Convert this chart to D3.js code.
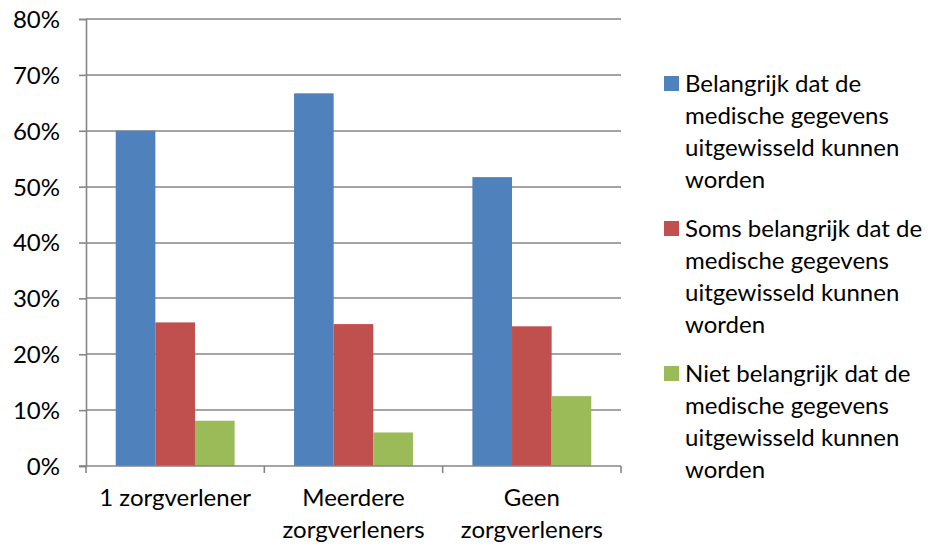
<!DOCTYPE html>
<html>
<head>
<meta charset="utf-8">
<script src="https://cdn.jsdelivr.net/npm/d3@7"></script>
<style>
  html, body { margin: 0; padding: 0; background: #fff; }
  svg { display: block; font-family: Lato, "Open Sans", sans-serif; }
</style>
</head>
<body>
<svg id="chart" width="944" height="547"></svg>
<script>
// Categories along the x axis (each label may wrap onto two lines)
const categories = ["1 zorgverlener", "Meerdere zorgverleners", "Geen zorgverleners"];
const categoryLines = [["1 zorgverlener"], ["Meerdere", "zorgverleners"], ["Geen", "zorgverleners"]];

// Series names (legend), shown as wrapped lines
const seriesNames = [
  "Belangrijk dat de medische gegevens uitgewisseld kunnen worden",
  "Soms belangrijk dat de medische gegevens uitgewisseld kunnen worden",
  "Niet belangrijk dat de medische gegevens uitgewisseld kunnen worden"
];
const seriesLines = [
  ["Belangrijk dat de", "medische gegevens", "uitgewisseld kunnen", "worden"],
  ["Soms belangrijk dat de", "medische gegevens", "uitgewisseld kunnen", "worden"],
  ["Niet belangrijk dat de", "medische gegevens", "uitgewisseld kunnen", "worden"]
];

// Share per category, one array per series
const belangrijk     = [0.600, 0.667, 0.517];
const somsBelangrijk = [0.257, 0.254, 0.250];
const nietBelangrijk = [0.081, 0.060, 0.125];
const seriesValues = [belangrijk, somsBelangrijk, nietBelangrijk];

const seriesColors = ["#4F81BD", "#C0504D", "#9BBB59"];
const yTicks = [0, 0.1, 0.2, 0.3, 0.4, 0.5, 0.6, 0.7, 0.8];

const fontSize = 24;
const svg = d3.select("#chart");
const plot = { left: 86, right: 621, top: 19, bottom: 466 };

const y = d3.scaleLinear().domain([0, 0.8]).range([plot.bottom, plot.top]);
const x0 = d3.scaleBand().domain(categories).range([plot.left, plot.right]).padding(0);
// Clustered bars: 150% gap width split around each cluster
const gap = x0.bandwidth() * 0.75 / 4.5;
const x1 = d3.scaleBand().domain(d3.range(seriesValues.length))
  .range([gap, x0.bandwidth() - gap]).padding(0);

const gridColor = "#868686";

// Horizontal gridlines
svg.append("g").selectAll("line").data(yTicks.slice(1)).join("line")
  .attr("x1", plot.left).attr("x2", plot.right)
  .attr("y1", d => Math.round(y(d))).attr("y2", d => Math.round(y(d)))
  .attr("stroke", gridColor).attr("stroke-width", 1.6);

// Bars
const groups = svg.append("g").selectAll("g").data(categories).join("g")
  .attr("transform", c => `translate(${x0(c)},0)`);
groups.selectAll("rect")
  .data((c, i) => seriesValues.map((vals, s) => ({ s, v: vals[i] })))
  .join("rect")
  .attr("x", d => x1(d.s))
  .attr("width", x1.bandwidth())
  .attr("y", d => y(d.v))
  .attr("height", d => y(0) - y(d.v))
  .attr("fill", d => seriesColors[d.s]);

// Y axis
const yAxis = svg.append("g").attr("transform", `translate(${plot.left},0)`)
  .call(d3.axisLeft(y).tickValues(yTicks).tickFormat(d3.format(".0%")).tickSize(7).tickPadding(19));
yAxis.select(".domain").attr("stroke", gridColor).attr("stroke-width", 1.6);
yAxis.selectAll(".tick line").attr("stroke", gridColor).attr("stroke-width", 1.6);
yAxis.selectAll(".tick text").attr("font-size", fontSize).attr("fill", "#000")
  .attr("font-family", "Lato, 'Open Sans', sans-serif").attr("dy", "0.35em");

// X axis with ticks between categories
const xEdges = categories.map(c => x0(c)).concat([plot.right]);
const xAxis = svg.append("g").attr("transform", `translate(0,${plot.bottom})`);
xAxis.append("line").attr("x1", plot.left - 7).attr("x2", plot.right)
  .attr("stroke", gridColor).attr("stroke-width", 1.6);
xAxis.selectAll("line.tk").data(xEdges).join("line").attr("class", "tk")
  .attr("x1", d => d).attr("x2", d => d).attr("y1", 0).attr("y2", 7)
  .attr("stroke", gridColor).attr("stroke-width", 1.6);

// Category labels
svg.append("g").selectAll("text").data(categories).join("text")
  .attr("x", c => x0(c) + x0.bandwidth() / 2)
  .attr("y", 506)
  .attr("text-anchor", "middle").attr("font-size", fontSize).attr("fill", "#000")
  .each(function(c, i) {
    d3.select(this).selectAll("tspan").data(categoryLines[i]).join("tspan")
      .attr("x", x0(c) + x0.bandwidth() / 2)
      .attr("dy", (d, k) => k === 0 ? 0 : 32)
      .text(d => d);
  });

// Legend
const legend = svg.append("g").selectAll("g").data(seriesNames).join("g")
  .attr("transform", (d, i) => `translate(664,${76 + i * 145})`);
legend.append("rect").attr("width", 15).attr("height", 15)
  .attr("fill", (d, i) => seriesColors[i]);
legend.append("text").attr("x", 21).attr("y", 16)
  .attr("font-size", fontSize).attr("fill", "#000")
  .each(function(d, i) {
    d3.select(this).selectAll("tspan").data(seriesLines[i]).join("tspan")
      .attr("x", 21).attr("dy", (t, k) => k === 0 ? 0 : 32)
      .text(t => t);
  });
</script>
</body>
</html>
